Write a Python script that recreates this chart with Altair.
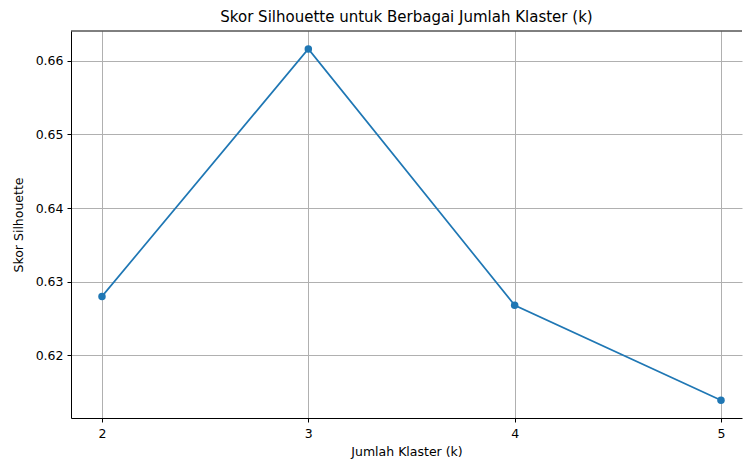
import altair as alt
import pandas as pd

# Silhouette score for each number of clusters
k_values = [2, 3, 4, 5]
silhouette_scores = [0.6280, 0.6616, 0.6268, 0.6139]
x_ticks = [2, 3, 4, 5]
y_ticks = [0.62, 0.63, 0.64, 0.65, 0.66]

df = pd.DataFrame({"k": k_values, "score": silhouette_scores})

FONT = "DejaVu Sans"
BLUE = "#1f77b4"
W, H = 671, 387
X_DOMAIN = [1.8498, 5.1018]
Y_DOMAIN = [0.61149, 0.66403]

common_axis = dict(
    gridColor="#b0b0b0",
    gridWidth=1,
    domainColor="black",
    domainWidth=1,
    tickColor="black",
    tickSize=4,
    labelFont=FONT,
    titleFont=FONT,
    labelFontSize=12.5,
    titleFontSize=12.5,
    labelColor="black",
    titleColor="black",
    titleFontWeight="normal",
)

x_enc = alt.X(
    "k:Q",
    scale=alt.Scale(domain=X_DOMAIN, nice=False, zero=False),
    axis=alt.Axis(
        values=x_ticks,
        format="d",
        title="Jumlah Klaster (k)",
        labelPadding=5,
        titlePadding=6,
        grid=True,
        **common_axis,
    ),
)
y_enc = alt.Y(
    "score:Q",
    scale=alt.Scale(domain=Y_DOMAIN, nice=False, zero=False),
    axis=alt.Axis(
        values=y_ticks,
        format=".2f",
        title="Skor Silhouette",
        labelPadding=4,
        titlePadding=10,
        grid=True,
        **common_axis,
    ),
)

line = alt.Chart(df).mark_line(color=BLUE, strokeWidth=1.7, clip=True).encode(x=x_enc, y=y_enc)
points = alt.Chart(df).mark_point(
    filled=True, color=BLUE, size=56, opacity=1, shape="circle", clip=True
).encode(x="k:Q", y="score:Q")

# top frame line of the plot area, at the upper end of the y scale
top_edge = alt.Chart(pd.DataFrame({"top": [Y_DOMAIN[1]]})).mark_rule(
    color="black", strokeWidth=1
).encode(y="top:Q")

chart = (
    alt.layer(line, points, top_edge)
    .properties(
        width=W,
        height=H,
        background="white",
        padding={"left": 71, "top": 31, "right": 1, "bottom": 43},
        autosize=alt.AutoSizeParams(type="none"),
        title=alt.TitleParams(
            "Skor Silhouette untuk Berbagai Jumlah Klaster (k)",
            anchor="middle",
            fontSize=15,
            font=FONT,
            fontWeight="normal",
            color="black",
            offset=6,
        ),
    )
    .configure_view(strokeWidth=0, stroke="transparent")
)

chart.save("out.html", embed_options={"renderer": "svg", "actions": False})
